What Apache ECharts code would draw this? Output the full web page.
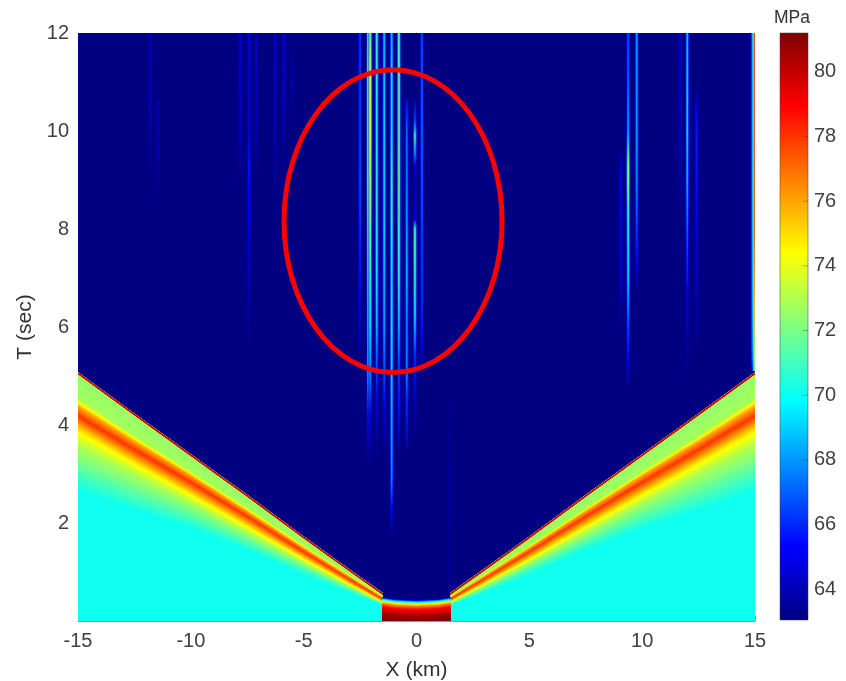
<!DOCTYPE html>
<html>
<head>
<meta charset="utf-8">
<style>html,body{margin:0;padding:0;background:#fff}#c{width:846px;height:681px;filter:blur(0.55px)}</style>
<script src="https://cdn.jsdelivr.net/npm/echarts@6/dist/echarts.min.js"></script>
</head>
<body>
<div id="c"></div>
<script>
// ---------- values ----------
var xTicks = [-15, -10, -5, 0, 5, 10, 15];
var tTicks = [2, 4, 6, 8, 10, 12];
var barTicks = [64, 66, 68, 70, 72, 74, 76, 78, 80];
var tMin = 0, tMax = 12, cMin = 63.05, cMax = 81.2;

// Wavefront: arrival time (s) at each X (km), same reading mirrored on the right
var wedgeX = [-15, -12.5, -10, -7.5, -5, -3, -1.5];
var wedgeFront = [5.08, 4.24, 3.41, 2.58, 1.73, 1.07, 0.58];
// Pressure (MPa) at successive stops behind the front
var wedgeP = [63.05, 80, 80, 72.5, 72.8, 76, 78, 76, 74.5, 73, 72, 71, 70];
// Delay (s) behind the front of each stop, one row per stop
var wedgeDelay = [
  [0, 0, 0, 0, 0, 0, 0],
  [.012, .012, .012, .012, .012, .012, .012],
  [.05, .05, .05, .05, .05, .05, .05],
  [.06, .06, .06, .06, .06, .06, .06],
  [.53, .45, .35, .27, .18, .11, .08],
  [.69, .57, .44, .34, .24, .16, .10],
  [.88, .73, .57, .44, .31, .21, .13],
  [1.06, .90, .72, .56, .40, .27, .17],
  [1.20, 1.02, .83, .65, .46, .31, .19],
  [1.47, 1.22, .98, .76, .53, .35, .21],
  [1.80, 1.47, 1.14, .88, .60, .39, .23],
  [2.10, 1.73, 1.33, 1.00, .68, .44, .25],
  [2.45, 2.00, 1.53, 1.14, .80, .50, .27]
];

// Central high-pressure cap
var capX = [-1.5, -0.95, 0, 0.95, 1.5];
var capFront = [0.49, 0.45, 0.43, 0.45, 0.49];
var capP = [63.05, 67.5, 71, 75, 77, 79, 80.5, 81.2];
var capDelay = [0, .03, .06, .10, .14, .20, .32, .43];

// Vertical streaks: X (km), then T knots (s) and pressure knots (MPa)
var streakX = [-11.81, -11.45, -7.82, -7.42, -7.11, -6.27, -5.87, -5.52,
  -2.50, -2.13, -2.05, -1.76, -1.43, -1.10, -0.78, -0.43, -0.07, 0.24, 1.47,
  9.05, 9.38, 9.76, 11.68, 12.0, 12.41, 14.90, 14.97];
var streakT = [
  [8.8, 10, 12], [8.6, 9.5, 10.6, 10.7], [8.8, 10, 12],
  [5.5, 7, 8.4, 9.3, 10, 12], [9, 10, 12], [8, 10, 12], [9, 10.5, 12], [10, 11, 11.6, 11.8],
  [5.4, 5.8, 7.5, 9, 12],
  [3.2, 4.2, 5, 6, 7, 8, 9, 10, 11, 12], [3.2, 4.2, 5, 6, 7, 8, 9, 10, 11, 12],
  [3.4, 4.5, 5, 6, 7, 8, 9, 10, 12],
  [3.5, 4.5, 5, 6, 7, 8, 10, 12],
  [1.7, 2.3, 2.9, 3.5, 4.5, 5, 6, 7, 8, 9, 10, 11, 12],
  [3.4, 4.5, 5.2, 6, 7, 8, 9, 10, 11, 12],
  [3.4, 4.5, 5, 6, 7, 8, 9, 10, 10.6, 10.7],
  [3.8, 4.8, 5.4, 6.2, 7, 7.6, 8, 8.2, 8.8, 9.3, 9.5, 9.9, 10.2, 10.7],
  [5, 5.6, 6.5, 8, 10, 12],
  [0.6, 3, 5],
  [6, 7, 9, 9.3, 9.6],
  [4.7, 5.4, 6, 7, 7.5, 8.5, 9, 9.3, 10, 11, 12],
  [6.7, 7.4, 8.8, 10, 12],
  [8, 10, 12],
  [5, 6.7, 7.5, 8.8, 10, 12],
  [5.5, 6.7, 8, 9.8, 10.5, 10.9],
  [5.1, 5.4, 6, 8, 12],
  [5.1, 5.5, 6.6, 8, 12]
];
var streakP = [
  [63.1, 64, 64.3], [63.1, 64, 64.1, 63.1], [63.1, 64.3, 64.8],
  [63.1, 64.3, 65.3, 65.8, 64.8, 65.2], [63.1, 64.3, 64.6], [63.1, 64.2, 64.6], [63.1, 64.5, 65], [63.1, 64, 63.6, 63.1],
  [63.2, 64.5, 66, 67, 66.5],
  [63.2, 66, 70, 71, 72, 73, 74.5, 76, 76, 73], [63.2, 65, 68, 70, 71, 72, 73, 74, 74, 72],
  [63.3, 65, 66.5, 69, 70, 70.5, 70.5, 70.5, 71],
  [63.3, 65.5, 67, 68.5, 69, 69.5, 69.5, 69],
  [63.2, 65.5, 68, 68.5, 69, 69.5, 70, 70, 71, 71, 70, 70, 69],
  [63.3, 66, 67, 69, 71, 71.5, 72, 72, 72, 72],
  [63.3, 66.5, 68, 68, 69, 68.5, 68, 67.5, 65.5, 63.1],
  [63.2, 65, 66.5, 70, 71, 72, 71.5, 65, 64, 64.5, 68, 71.5, 67, 63.1],
  [63.2, 65, 66.5, 67, 67.5, 67],
  [63.5, 63.7, 63.1],
  [63.1, 64.5, 65, 64.5, 63.1],
  [63.2, 65.5, 67, 69.5, 70, 71.5, 73, 73, 68.5, 67.5, 67],
  [63.2, 65.5, 68, 68.5, 68.5],
  [63.1, 64.3, 64.5],
  [63.1, 65, 66.5, 68.5, 69.5, 69],
  [63.1, 64.3, 65, 66, 65, 63.1],
  [66, 69, 70, 70, 70],
  [72, 73, 76, 77.5, 78]
];

// Marked region: centre (km, s) and semi-axes (km, s)
var ringCentre = [-1.04, 8.16];
var ringSemi = [4.83, 3.09];

// ---------- colour map ----------
function clamp(a) { return Math.max(0, Math.min(1, a)); }
function jet(v) {
  var t = (v - cMin) / (cMax - cMin);
  var r = clamp(Math.min(4 * t - 1.5, -4 * t + 4.5));
  var g = clamp(Math.min(4 * t - 0.5, -4 * t + 3.5));
  var b = clamp(Math.min(4 * t + 0.5, -4 * t + 2.5));
  return 'rgb(' + Math.round(r * 255) + ',' + Math.round(g * 255) + ',' + Math.round(b * 255) + ')';
}

// ---------- filled bands: each polygon runs from one contour down to the bottom ----------
var bands = [];
function addBands(xs, front, values, delayAt) {
  var SUB = 8;
  for (var s = 0; s < values.length - 1; s++) {
    for (var k = 0; k < SUB; k++) {
      var f = k / SUB, pts = [];
      for (var c = 0; c < xs.length; c++) {
        var d = delayAt(s, c) * (1 - f) + delayAt(s + 1, c) * f;
        pts.push([xs[c], front[c] - d]);
      }
      pts.push([xs[xs.length - 1], tMin], [xs[0], tMin]);
      bands.push({ pts: pts, color: jet(values[s] * (1 - f) + values[s + 1] * f) });
    }
  }
}
var wd = function (s, c) { return wedgeDelay[s][c]; };
addBands(wedgeX, wedgeFront, wedgeP, wd);
addBands(wedgeX.map(function (x) { return -x; }), wedgeFront, wedgeP, wd);
addBands(capX, capFront, capP, function (s) { return capDelay[s]; });

function streakFill(i, factor) {
  var T = streakT[i], P = streakP[i], hi = T[T.length - 1], lo = T[0], stops = [];
  for (var j = T.length - 1; j >= 0; j--) {
    stops.push({ offset: (hi - T[j]) / (hi - lo), color: jet(cMin + (P[j] - cMin) * factor) });
  }
  return new echarts.graphic.LinearGradient(0, 0, 0, 1, stops);
}
var layers = [[4.6, 0.32, 0.55], [2.8, 0.62, 0.9], [1.4, 1, 0.85]]; // px width, value factor, opacity

var chart = echarts.init(document.getElementById('c'), null, { renderer: 'canvas' });
var axisFont = { fontFamily: 'Liberation Sans', fontSize: 20, color: '#404040' };
var frame = { show: true, lineStyle: { color: 'rgba(60,60,60,0.55)', width: 1 } };

chart.setOption({
  animation: false,
  backgroundColor: '#fff',
  title: { text: 'MPa', left: 769, top: 4, textStyle: { fontFamily: 'Liberation Sans', fontSize: 17.5, fontWeight: 'normal', color: '#303030' } },
  grid: [
    { left: 78, top: 33, width: 677, height: 588, show: false, outerBoundsMode: 'none' },
    { left: 780, top: 33, width: 28, height: 587, show: false, outerBoundsMode: 'none' }
  ],
  xAxis: [
    { type: 'value', gridIndex: 0, min: -15, max: 15, interval: 5, splitLine: { show: false },
      name: 'X (km)', nameLocation: 'middle', nameGap: 39,
      nameTextStyle: { fontFamily: 'Liberation Sans', fontSize: 21, color: '#303030' },
      axisLine: frame, axisTick: { inside: true, length: 5, lineStyle: { color: 'rgba(60,60,60,0.5)' } },
      axisLabel: Object.assign({ margin: 10 }, axisFont, { customValues: xTicks }) },
    { type: 'value', gridIndex: 1, min: 0, max: 1, show: false }
  ],
  yAxis: [
    { type: 'value', gridIndex: 0, min: 0, max: tMax, interval: 2, splitLine: { show: false },
      name: 'T (sec)', nameLocation: 'middle', nameGap: 33, nameRotate: 90,
      nameTextStyle: { fontFamily: 'Liberation Sans', fontSize: 21, color: '#303030' },
      axisLine: frame,
      axisTick: { inside: true, length: 5, customValues: tTicks, lineStyle: { color: 'rgba(60,60,60,0.5)' } },
      axisLabel: Object.assign({ margin: 9 }, axisFont, { customValues: tTicks }) },
    { type: 'value', gridIndex: 1, position: 'right', min: cMin, max: cMax, splitLine: { show: false },
      axisLine: { show: false }, axisTick: { show: false },
      axisLabel: Object.assign({ margin: 6 }, axisFont, { customValues: barTicks }) }
  ],
  series: [
    { type: 'custom', name: 'field', xAxisIndex: 0, yAxisIndex: 0, clip: true, silent: true,
      data: [[0]],
      renderItem: function (p, api) {
        var a = api.coord([-15, tMax]), b = api.coord([15, tMin]);
        return { type: 'rect', shape: { x: a[0], y: a[1], width: b[0] - a[0], height: b[1] - a[1] }, style: { fill: jet(cMin) } };
      } },
    { type: 'custom', name: 'streaks', xAxisIndex: 0, yAxisIndex: 0, clip: true, silent: true,
      data: streakX.map(function (x, i) { return [x, i]; }),
      renderItem: function (p, api) {
        var i = p.dataIndex, T = streakT[i];
        var a = api.coord([streakX[i], T[T.length - 1]]), b = api.coord([streakX[i], T[0]]);
        return { type: 'group', children: layers.map(function (l) {
          return { type: 'rect', shape: { x: a[0] - l[0] / 2, y: a[1], width: l[0], height: b[1] - a[1] },
            style: { fill: streakFill(i, l[1]), opacity: l[2] } };
        }) };
      } },
    { type: 'custom', name: 'bands', xAxisIndex: 0, yAxisIndex: 0, clip: true, silent: true,
      data: bands.map(function (b, i) { return [i]; }),
      renderItem: function (p, api) {
        var b = bands[p.dataIndex];
        return { type: 'polygon', shape: { points: b.pts.map(function (q) { return api.coord(q); }) }, style: { fill: b.color } };
      } },
    { type: 'custom', name: 'ring', xAxisIndex: 0, yAxisIndex: 0, clip: false, silent: true, z: 5,
      data: [[ringCentre[0], ringCentre[1]]],
      renderItem: function (p, api) {
        var c = api.coord(ringCentre), e = api.coord([ringCentre[0] + ringSemi[0], ringCentre[1] + ringSemi[1]]);
        return { type: 'ellipse', shape: { cx: c[0], cy: c[1], rx: e[0] - c[0], ry: c[1] - e[1] },
          style: { fill: 'none', stroke: '#ff0000', lineWidth: 5 } };
      } },
    { type: 'custom', name: 'colorbar', xAxisIndex: 1, yAxisIndex: 1, clip: false, silent: true,
      data: [[0]],
      renderItem: function (p, api) {
        var a = api.coord([0, cMax]), b = api.coord([1, cMin]);
        var stops = [0, .125, .375, .5, .625, .875, 1].map(function (t) {
          return { offset: 1 - t, color: jet(cMin + t * (cMax - cMin)) };
        }).reverse();
        return { type: 'rect', shape: { x: a[0], y: a[1], width: b[0] - a[0], height: b[1] - a[1] },
          style: { fill: new echarts.graphic.LinearGradient(0, 0, 0, 1, stops), stroke: 'rgba(60,60,60,0.5)', lineWidth: 1 } };
      } },
    { type: 'custom', name: 'colorbar ticks', xAxisIndex: 1, yAxisIndex: 1, clip: false, silent: true, z: 3,
      data: barTicks.map(function (v) { return [1, v]; }),
      renderItem: function (p, api) {
        var v = barTicks[p.dataIndex], a = api.coord([0.82, v]), b = api.coord([1, v]);
        return { type: 'line', shape: { x1: a[0], y1: a[1], x2: b[0], y2: b[1] }, style: { stroke: 'rgba(40,40,40,0.35)', lineWidth: 1 } };
      } }
  ]
});
</script>
</body>
</html>
